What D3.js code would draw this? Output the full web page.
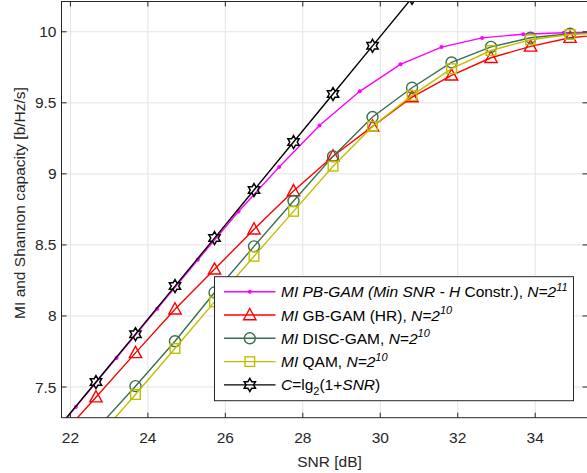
<!DOCTYPE html>
<html>
<head>
<meta charset="utf-8">
<script src="https://cdn.jsdelivr.net/npm/d3@7"></script>
<style>
  html, body { margin: 0; padding: 0; background: #fff; }
  svg { display: block; font-family: "Liberation Sans", Arial, Helvetica, sans-serif; }
</style>
</head>
<body>
<svg id="chart" width="587" height="473"></svg>
<script>
// ---- data ----
const snrGrid = [21.64, 22.66, 23.68, 24.70, 25.72, 26.74, 27.76, 28.78, 29.80, 30.82, 31.84, 32.86, 33.88, 34.90, 35.92];
const snrPB   = [21.09, 22.14, 23.19, 24.24, 25.29, 26.34, 27.39, 28.43, 29.47, 30.52, 31.58, 32.63, 33.69, 34.74, 35.79];
const miPB    = [7.010, 7.360, 7.705, 8.050, 8.395, 8.735, 9.048, 9.341, 9.581, 9.771, 9.892, 9.957, 9.983, 9.993, 9.998];
const miGB    = [7.120, 7.428, 7.740, 8.047, 8.328, 8.610, 8.879, 9.124, 9.334, 9.540, 9.693, 9.817, 9.897, 9.958, 9.985];
const miDISC  = [6.890, 7.200, 7.506, 7.822, 8.165, 8.490, 8.809, 9.123, 9.400, 9.606, 9.784, 9.894, 9.958, 9.986, 9.996];
const miQAM   = [6.820, 7.130, 7.447, 7.771, 8.099, 8.420, 8.736, 9.054, 9.334, 9.552, 9.740, 9.868, 9.944, 9.981, 9.994];
const capC    = [7.199, 7.535, 7.872, 8.210, 8.548, 8.886, 9.224, 9.562, 9.901, 10.239, 10.578];
const xTicks  = [22, 24, 26, 28, 30, 32, 34];
const yTicks  = [7.5, 8, 8.5, 9, 9.5, 10];

const series = [
  { key: "pb",   xs: snrPB,   ys: miPB,   color: "#ff00ff", marker: "dot" },
  { key: "gb",   xs: snrGrid, ys: miGB,   color: "#ff0000", marker: "triangle" },
  { key: "disc", xs: snrGrid, ys: miDISC, color: "#3b6e52", marker: "circle" },
  { key: "qam",  xs: snrGrid, ys: miQAM,  color: "#bfbf00", marker: "square" },
  { key: "cap",  xs: snrGrid, ys: capC,   color: "#000000", marker: "hexagram" }
];

// ---- layout ----
const L = 61.5, R = 587.5, T = 1.5, B = 417.7;
const x = d3.scaleLinear().domain([21.77, 35.35]).range([L, R]);
const y = d3.scaleLinear().domain([7.284, 10.213]).range([B, T]);

const svg = d3.select("#chart");
const axisColor = "#262626";
const gridColor = "#e3e3e3";
const fs = 15.5;

svg.append("defs").append("clipPath").attr("id", "plotclip")
  .append("rect").attr("x", L).attr("y", T).attr("width", R - L).attr("height", B - T);

// grid
const grid = svg.append("g");
grid.selectAll(".gx").data(xTicks).enter().append("line")
  .attr("x1", d => x(d)).attr("x2", d => x(d)).attr("y1", T).attr("y2", B)
  .attr("stroke", gridColor).attr("stroke-width", 1);
grid.selectAll(".gy").data(yTicks).enter().append("line")
  .attr("x1", L).attr("x2", R).attr("y1", d => y(d)).attr("y2", d => y(d))
  .attr("stroke", gridColor).attr("stroke-width", 1);

// markers
function hexagramPath(r) {
  const ri = r / Math.sqrt(3);
  const pts = [];
  for (let i = 0; i < 12; i++) {
    const a = -Math.PI / 2 + i * Math.PI / 6;
    const rr = i % 2 === 0 ? r : ri;
    pts.push([rr * Math.cos(a), rr * Math.sin(a)]);
  }
  return "M" + pts.map(p => p[0].toFixed(2) + "," + p[1].toFixed(2)).join("L") + "Z";
}
function drawMarker(g, type, cx, cy, color) {
  if (type === "dot") {
    g.append("circle").attr("cx", cx).attr("cy", cy).attr("r", 2).attr("fill", color);
  } else if (type === "triangle") {
    const s = 6.5;
    g.append("path").attr("transform", `translate(${cx},${cy})`)
      .attr("d", `M0,${-s}L${s * 0.95},${s * 0.72}L${-s * 0.95},${s * 0.72}Z`)
      .attr("fill", "none").attr("stroke", color).attr("stroke-width", 1.4);
  } else if (type === "circle") {
    g.append("circle").attr("cx", cx).attr("cy", cy).attr("r", 5.5)
      .attr("fill", "none").attr("stroke", color).attr("stroke-width", 1.4);
  } else if (type === "square") {
    g.append("rect").attr("x", cx - 4.8).attr("y", cy - 4.8).attr("width", 9.6).attr("height", 9.6)
      .attr("fill", "none").attr("stroke", color).attr("stroke-width", 1.4);
  } else if (type === "hexagram") {
    g.append("path").attr("transform", `translate(${cx},${cy})`)
      .attr("d", hexagramPath(6.5))
      .attr("fill", "none").attr("stroke", color).attr("stroke-width", 1.5);
  }
}

const plot = svg.append("g").attr("clip-path", "url(#plotclip)");
const line = d3.line().x(d => x(d[0])).y(d => y(d[1]));
series.forEach(s => {
  const pts = s.ys.map((v, i) => [s.xs[i], v]);
  plot.append("path").datum(pts).attr("d", line)
    .attr("fill", "none").attr("stroke", s.color).attr("stroke-width", 1.4);
  const mg = plot.append("g");
  pts.forEach(p => drawMarker(mg, s.marker, x(p[0]), y(p[1]), s.color));
});

// axes (box with inward ticks)
const ax = svg.append("g");
ax.append("rect").attr("x", L).attr("y", T).attr("width", R - L).attr("height", B - T)
  .attr("fill", "none").attr("stroke", axisColor).attr("stroke-width", 1);
const tl = 5;
xTicks.forEach(t => {
  ax.append("line").attr("x1", x(t)).attr("x2", x(t)).attr("y1", B).attr("y2", B - tl).attr("stroke", axisColor);
  ax.append("line").attr("x1", x(t)).attr("x2", x(t)).attr("y1", T).attr("y2", T + tl).attr("stroke", axisColor);
  ax.append("text").attr("x", x(t)).attr("y", B + 25).attr("text-anchor", "middle")
    .attr("font-size", fs).attr("fill", axisColor).text(d3.format("d")(t));
});
yTicks.forEach(t => {
  ax.append("line").attr("x1", L).attr("x2", L + tl).attr("y1", y(t)).attr("y2", y(t)).attr("stroke", axisColor);
  ax.append("line").attr("x1", R).attr("x2", R - tl).attr("y1", y(t)).attr("y2", y(t)).attr("stroke", axisColor);
  ax.append("text").attr("x", L - 5).attr("y", y(t) + 5.5).attr("text-anchor", "end")
    .attr("font-size", fs).attr("fill", axisColor).text(t);
});

// axis labels
svg.append("text").attr("x", (L + R) / 2 + 5).attr("y", 467).attr("text-anchor", "middle")
  .attr("font-size", fs).attr("fill", axisColor).text("SNR [dB]");
svg.append("text").attr("transform", `translate(25,203) rotate(-90)`)
  .attr("text-anchor", "middle").attr("font-size", fs).attr("fill", axisColor)
  .text("MI and Shannon capacity [b/Hz/s]");

// legend
const lg = svg.append("g");
const lx = 214.5, ly = 276.7, lw = 359, lh = 124;
lg.append("rect").attr("x", lx).attr("y", ly).attr("width", lw).attr("height", lh)
  .attr("fill", "#fff").attr("stroke", axisColor).attr("stroke-width", 1);

const legendLabels = [
  [["MI", "i"], [" PB-GAM (Min SNR - H", "i"], [" Constr.), ", "n"], ["N", "i"], ["=2", "i"], ["11", "sup"]],
  [["MI", "i"], [" GB-GAM (HR), ", "n"], ["N", "i"], ["=2", "i"], ["10", "sup"]],
  [["MI", "i"], [" DISC-GAM, ", "n"], ["N", "i"], ["=2", "i"], ["10", "sup"]],
  [["MI", "i"], [" QAM, ", "n"], ["N", "i"], ["=2", "i"], ["10", "sup"]],
  [["C", "i"], ["=lg", "n"], ["2", "sub"], ["(1+", "n"], ["SNR", "i"], [")", "n"]]
];
series.forEach((s, i) => {
  const cy = 291.7 + i * 23.3;
  lg.append("line").attr("x1", 224).attr("x2", 275.5).attr("y1", cy).attr("y2", cy)
    .attr("stroke", s.color).attr("stroke-width", 1.4);
  drawMarker(lg, s.marker, 249.8, cy, s.color);
  const txt = lg.append("text").attr("x", 281).attr("y", cy + 5.5).attr("font-size", fs).attr("fill", "#000");
  let shift = 0;
  legendLabels[i].forEach(([str, st]) => {
    const ts = txt.append("tspan").text(str);
    if (st === "i") ts.attr("font-style", "italic");
    let target = 0;
    if (st === "sup") { target = -6.5; ts.attr("font-size", 11).attr("font-style", "italic"); }
    if (st === "sub") { target = 4.5; ts.attr("font-size", 11); }
    ts.attr("dy", target - shift);
    shift = target;
  });
});
</script>
</body>
</html>
